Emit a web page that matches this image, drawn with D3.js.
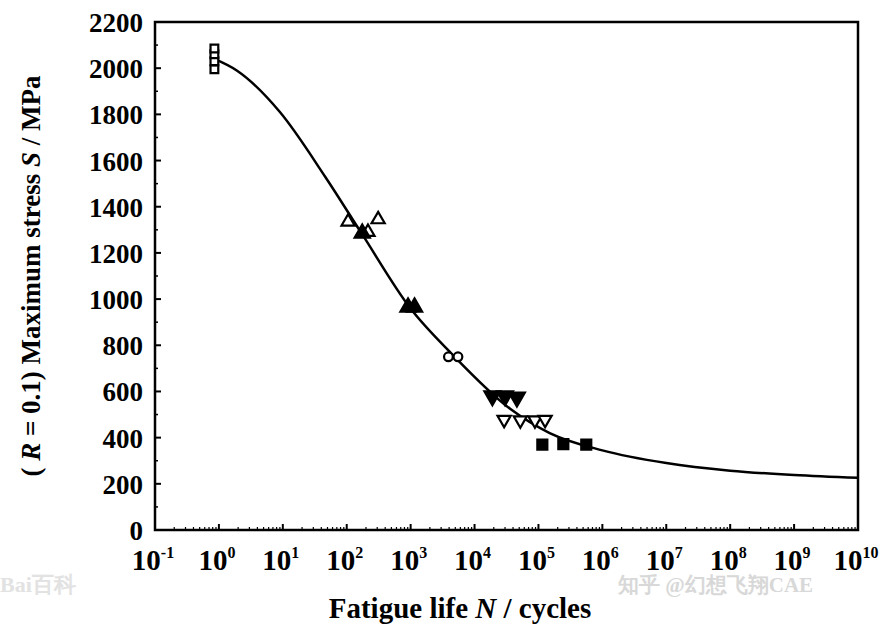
<!DOCTYPE html>
<html><head><meta charset="utf-8">
<script src="https://cdn.jsdelivr.net/npm/d3@7"></script>
<style>body{margin:0;background:#fff}text{font-family:"Liberation Serif",serif;font-weight:bold}</style>
</head><body><svg id="c" width="884" height="625"></svg>
<script>
// S-N data
const openSquares = [[0.85, 1995], [0.85, 2030], [0.85, 2060], [0.85, 2085]];
const openUp = [[105, 1335], [215, 1290], [310, 1345]];
const filledUp = [[175, 1285], [910, 965], [1150, 965]];
const openCircles = [[3900, 750], [5500, 750]];
const filledDown = [[19000, 580], [30000, 580], [46000, 575]];
const openDown = [[29000, 478], [52000, 476], [88000, 476], [127000, 478]];
const filledSquares = [[115000, 370], [245000, 372], [560000, 370]];
const curve = [[0.85, 2040], [1.9, 1990], [9, 1810], [46, 1530], [175, 1280], [990, 960], [4500, 760], [36000, 525], [150000, 420], [1e6, 345], [1e7, 290], [1e8, 257], [1e9, 238], [1e10, 226]];
const yTicks = d3.range(0, 2201, 200);
const xDecades = d3.range(-1, 11);

const svg = d3.select("#c");
const L = 155, R = 858, T = 22, B = 530;
const x = d3.scaleLog().domain([0.1, 1e10]).range([L, R]);
const y = d3.scaleLinear().domain([0, 2200]).range([B, T]);

svg.append("rect").attr("x", L).attr("y", T).attr("width", R - L).attr("height", B - T)
  .attr("fill", "none").attr("stroke", "#000").attr("stroke-width", 2.5);

// y ticks
svg.append("g").selectAll("line").data(yTicks).join("line")
  .attr("x1", L).attr("x2", L + 6).attr("y1", y).attr("y2", y).attr("stroke", "#000").attr("stroke-width", 2);
svg.append("g").selectAll("line").data(d3.range(100, 2200, 200)).join("line")
  .attr("x1", L).attr("x2", L + 3).attr("y1", y).attr("y2", y).attr("stroke", "#000").attr("stroke-width", 1.5);
svg.append("g").selectAll("text").data(yTicks).join("text")
  .attr("x", L - 12).attr("y", d => y(d) + 10).attr("text-anchor", "end").attr("font-size", 27).text(d => d);

// x ticks
const minor = [];
xDecades.forEach(e => { if (e < 10) for (let k = 2; k < 10; k++) minor.push(k * Math.pow(10, e)); });
svg.append("g").selectAll("line").data(minor).join("line")
  .attr("x1", x).attr("x2", x).attr("y1", B).attr("y2", B - 3).attr("stroke", "#000").attr("stroke-width", 1.2);
svg.append("g").selectAll("line").data(xDecades).join("line")
  .attr("x1", d => x(Math.pow(10, d))).attr("x2", d => x(Math.pow(10, d))).attr("y1", B).attr("y2", B - 6)
  .attr("stroke", "#000").attr("stroke-width", 2);
const xl = svg.append("g").selectAll("text").data(xDecades).join("text")
  .attr("x", d => x(Math.pow(10, d)) - 2).attr("y", B + 40).attr("text-anchor", "middle").attr("font-size", 29);
xl.append("tspan").text("10");
xl.append("tspan").attr("font-size", 16).attr("dy", -12).text(d => d);

// curve
svg.append("path").datum(curve)
  .attr("d", d3.line().x(d => x(d[0])).y(d => y(d[1])).curve(d3.curveMonotoneX))
  .attr("fill", "none").attr("stroke", "#000").attr("stroke-width", 2.5);

// markers
function marks(data, type, filled, size) {
  svg.append("g").selectAll("path").data(data).join("path")
    .attr("transform", d => `translate(${x(d[0])},${y(d[1])})${type === "down" ? " rotate(180)" : ""}`)
    .attr("d", d3.symbol().type(type === "square" ? d3.symbolSquare : type === "circle" ? d3.symbolCircle : d3.symbolTriangle).size(size))
    .attr("fill", filled ? "#000" : "#fff").attr("stroke", "#000").attr("stroke-width", 2.2);
}
marks(openSquares, "square", false, 60);
marks(openUp, "up", false, 75);
marks(filledUp, "up", true, 100);
marks(openCircles, "circle", false, 60);
marks(filledDown, "down", true, 110);
marks(openDown, "down", false, 75);
marks(filledSquares, "square", true, 100);

// axis titles
svg.append("text").attr("x", 460).attr("y", 618).attr("text-anchor", "middle").attr("font-size", 29)
  .html('Fatigue life <tspan font-style="italic">N</tspan>  / cycles');
svg.append("text").attr("transform", "translate(40,276) rotate(-90)").attr("text-anchor", "middle").attr("font-size", 27)
  .html('( <tspan font-style="italic">R</tspan> = 0.1) Maximum stress <tspan font-style="italic">S</tspan> / MPa');

// watermarks
svg.append("text").attr("x", 0).attr("y", 592).attr("font-size", 22).attr("fill", "#e2e2e2").attr("font-family", "Noto Sans CJK SC").text("Bai百科");
svg.append("text").attr("x", 618).attr("y", 592).attr("font-size", 21).attr("fill", "#d8d8d8").attr("font-weight", "normal")
  .attr("font-family", "Noto Sans CJK SC").text("知乎 @幻想飞翔CAE");
</script></body></html>
